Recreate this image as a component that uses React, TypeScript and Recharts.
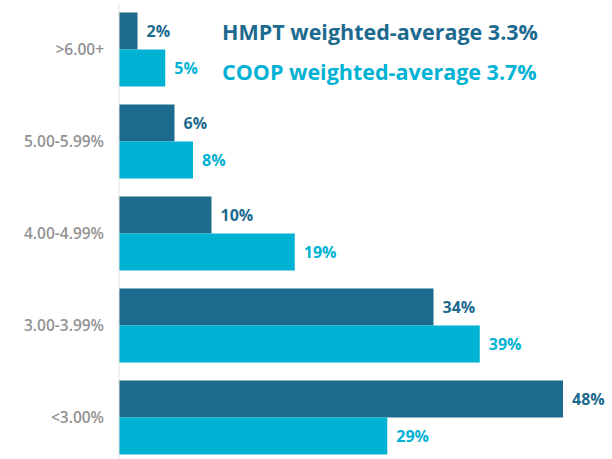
import React from 'react';
import { BarChart, Bar, XAxis, YAxis, LabelList } from 'recharts';

const categories = ['>6.00+', '5.00-5.99%', '4.00-4.99%', '3.00-3.99%', '<3.00%'];
const hmptValues = [2, 6, 10, 34, 48];
const coopValues = [5, 8, 19, 39, 29];

const HMPT_COLOR = '#1d6a8f';
const COOP_COLOR = '#00b2d4';
const FONT = '"Open Sans", "Noto Sans", sans-serif';

const data = categories.map((c, i) => ({ name: c, hmpt: hmptValues[i], coop: coopValues[i] }));

const pct = (v: any) => `${v}%`;

const App: React.FC = () => {
  return (
    <div style={{ position: 'absolute', left: 0, top: 0, width: 612, height: 459, overflow: 'hidden', background: '#fff', fontFamily: FONT }}>
      <BarChart
        width={612}
        height={463}
        data={data}
        layout="vertical"
        margin={{ top: 3, right: 49, left: 0, bottom: 0 }}
        barCategoryGap={9.5}
        barGap={0}
      >
        <XAxis type="number" hide domain={[0, 48]} />
        <YAxis
          type="category"
          dataKey="name"
          width={119}
          tickLine={false}
          axisLine={{ stroke: '#e2e2e2' }}
          tickMargin={9}
          tick={{ fill: '#929292', fontSize: 15.5, fontWeight: 600, fontFamily: FONT }}
        />
        <Bar dataKey="hmpt" fill={HMPT_COLOR} isAnimationActive={false}>
          <LabelList dataKey="hmpt" position="right" offset={9} formatter={pct}
            style={{ fill: HMPT_COLOR, fontSize: 16, fontWeight: 700, fontFamily: FONT }} />
        </Bar>
        <Bar dataKey="coop" fill={COOP_COLOR} isAnimationActive={false}>
          <LabelList dataKey="coop" position="right" offset={9} formatter={pct}
            style={{ fill: COOP_COLOR, fontSize: 16, fontWeight: 700, fontFamily: FONT }} />
        </Bar>
      </BarChart>
      <div style={{ position: 'absolute', left: 222, top: 19, fontSize: 21.5, lineHeight: '26px', fontWeight: 700, color: HMPT_COLOR, whiteSpace: 'nowrap' }}>
        HMPT weighted-average 3.3%
      </div>
      <div style={{ position: 'absolute', left: 222, top: 59, fontSize: 21.5, lineHeight: '26px', fontWeight: 700, color: COOP_COLOR, whiteSpace: 'nowrap' }}>
        COOP weighted-average 3.7%
      </div>
    </div>
  );
};

export default App;
